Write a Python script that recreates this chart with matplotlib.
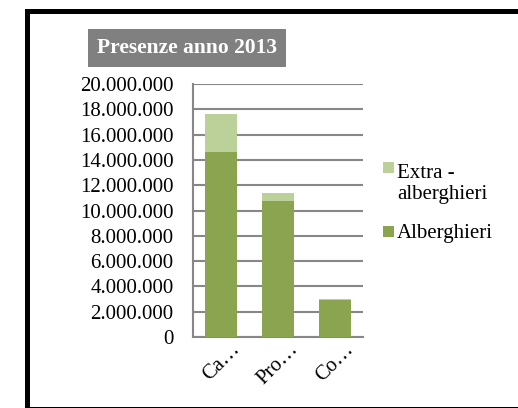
import matplotlib.pyplot as plt
from matplotlib.patches import Rectangle
import numpy as np

# data
categories = ['Ca…', 'Pro…', 'Co…']
alberghieri = [14600000, 10750000, 2920000]
extra_alberghieri = [3050000, 600000, 80000]
series_names = ['Extra -\nalberghieri', 'Alberghieri']
yticks = np.arange(0, 20000001, 2000000)
ytick_labels = ['{:,}'.format(v).replace(',', '.') for v in yticks]

dark_green = '#8ba44f'
light_green = '#bcd09a'
grid_gray = '#878787'
serif = 'Liberation Serif'

fig = plt.figure(figsize=(5.18, 4.08), dpi=100)
ax = fig.add_axes([193/518, 1 - 337/408, 170/518, 253/408])

x = np.arange(len(categories))
ax.bar(x, alberghieri, width=0.57, color=dark_green, zorder=3)
ax.bar(x, extra_alberghieri, width=0.57, bottom=alberghieri, color=light_green, zorder=3)

ax.set_xlim(-0.5, 2.5)
ax.set_ylim(0, 20000000)
ax.set_yticks(yticks)
ax.set_yticklabels(ytick_labels, fontsize=15, family=serif)
ax.set_xticks(x)
ax.set_xticklabels(categories, fontsize=15, family=serif, rotation=45, ha='center', va='top')
ax.tick_params(length=0)
ax.tick_params(axis='y', pad=14)
ax.tick_params(axis='x', pad=2)
ax.grid(axis='y', color=grid_gray, lw=1.5, zorder=0)
for s in ['top', 'right']:
    ax.spines[s].set_visible(False)
for s in ['left', 'bottom']:
    ax.spines[s].set_color(grid_gray)
    ax.spines[s].set_linewidth(1.5)

# legend drawn by hand so the swatch sits on the first line, like Excel
W, H = 518, 408
for name, col, sq_y, txt_y in [(series_names[0], light_green, 162, 184),
                               (series_names[1], dark_green, 226, 233.5)]:
    fig.patches.append(Rectangle((383/W, 1 - (sq_y + 11)/H), 11/W, 11/H,
                                 transform=fig.transFigure, fc=col, ec='none'))
    fig.text(397/W, 1 - txt_y/H, name, ha='left', va='center', fontsize=15,
             family=serif, linespacing=1.1)

# title in grey box
fig.text(187/W, 1 - 48/H, 'Presenze anno 2013', ha='center', va='center', color='white',
         fontsize=15.5, fontweight='bold', family=serif,
         bbox=dict(boxstyle='square,pad=0.4', fc='#808080', ec='none'))

# outer black frame
fig.patches.append(Rectangle((26.5/W, -0.5/H), 520/W, 398/H, transform=fig.transFigure,
                             fill=False, ec='black', lw=3.6))

fig.savefig('out.png', dpi=100)
